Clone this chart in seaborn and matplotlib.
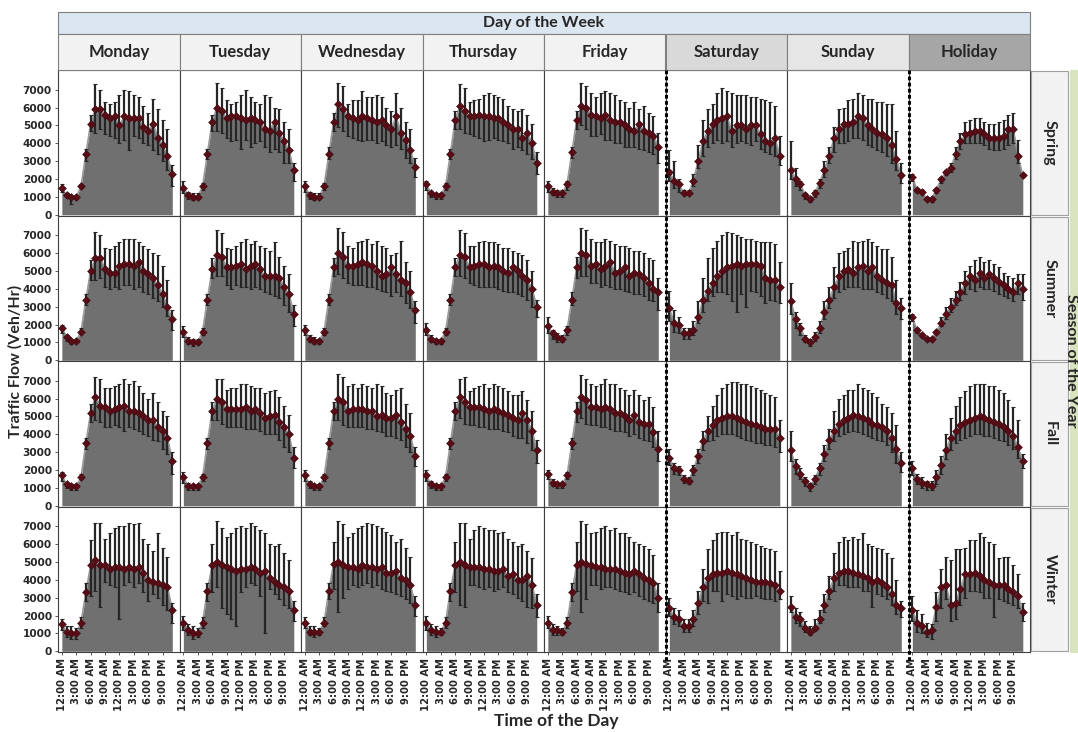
import numpy as np
import pandas as pd
import matplotlib
matplotlib.use("Agg")
import matplotlib.pyplot as plt
from matplotlib.patches import Rectangle
from matplotlib.lines import Line2D
import seaborn as sns

# ---------------------------------------------------------------- data
# traffic flow values in hundreds of veh/hr
days = ["Monday", "Tuesday", "Wednesday", "Thursday", "Friday", "Saturday", "Sunday", "Holiday"]
seasons = ["Spring", "Summer", "Fall", "Winter"]
hours = list(range(24))
hour_ticks = [0, 3, 6, 9, 12, 15, 18, 21]
hour_labels = ["12:00 AM", "3:00 AM", "6:00 AM", "9:00 AM", "12:00 PM", "3:00 PM", "6:00 PM", "9:00 PM"]
y_ticks = [0, 1000, 2000, 3000, 4000, 5000, 6000, 7000]

spring_mean = {
    "Monday":    [15, 11, 10, 10, 16, 34, 51, 59, 59, 56, 54, 55, 50, 55, 54, 54, 54, 49, 47, 51, 43, 39, 33, 23],
    "Tuesday":   [15, 11, 10, 10, 16, 34, 52, 60, 58, 54, 55, 55, 54, 53, 54, 53, 52, 48, 47, 52, 46, 41, 36, 25],
    "Wednesday": [16, 11, 10, 10, 16, 34, 52, 62, 59, 55, 54, 53, 55, 54, 53, 52, 53, 50, 48, 55, 46, 42, 36, 27],
    "Thursday":  [17, 12, 11, 11, 16, 34, 53, 61, 58, 55, 55, 56, 55, 55, 54, 54, 52, 50, 48, 48, 43, 46, 40, 29],
    "Friday":    [16, 13, 12, 12, 17, 35, 53, 61, 60, 56, 55, 54, 56, 53, 52, 52, 50, 48, 47, 51, 47, 46, 44, 38],
    "Saturday":  [24, 19, 17, 12, 12, 19, 30, 41, 47, 51, 53, 54, 55, 47, 50, 50, 48, 50, 50, 45, 41, 40, 43, 33],
    "Sunday":    [25, 20, 17, 11, 9, 12, 18, 25, 33, 43, 48, 51, 51, 52, 55, 54, 50, 48, 46, 45, 43, 39, 31, 22],
    "Holiday":   [21, 14, 13, 9, 9, 14, 20, 24, 26, 34, 41, 45, 46, 47, 47, 45, 43, 43, 43, 44, 48, 48, 33, 22],
}
spring_hi = {
    "Monday":    [17, 12, 11, 11, 17, 37, 56, 73, 70, 63, 62, 63, 67, 70, 69, 67, 66, 61, 57, 65, 59, 53, 48, 28],
    "Tuesday":   [19, 13, 12, 12, 18, 37, 56, 74, 71, 64, 62, 63, 67, 70, 66, 63, 62, 67, 66, 60, 59, 52, 48, 29],
    "Wednesday": [19, 13, 12, 12, 18, 38, 57, 74, 72, 62, 64, 64, 69, 66, 66, 67, 66, 60, 58, 68, 60, 52, 48, 32],
    "Thursday":  [19, 13, 12, 12, 18, 37, 58, 73, 71, 63, 64, 65, 67, 68, 67, 66, 65, 61, 59, 58, 59, 56, 51, 35],
    "Friday":    [19, 15, 14, 14, 19, 38, 58, 74, 72, 68, 66, 68, 69, 68, 67, 64, 63, 60, 63, 59, 61, 57, 55, 46],
    "Saturday":  [36, 30, 20, 14, 14, 23, 39, 53, 59, 62, 68, 71, 69, 68, 67, 67, 67, 66, 66, 65, 64, 63, 61, 44],
    "Sunday":    [41, 26, 19, 12, 10, 14, 20, 30, 38, 49, 59, 60, 64, 65, 68, 67, 65, 65, 63, 63, 62, 62, 47, 29],
    "Holiday":   [23, 15, 14, 10, 10, 15, 21, 25, 29, 38, 46, 52, 53, 54, 54, 52, 51, 51, 52, 53, 56, 57, 42, 23],
}
spring_lo = {
    "Monday":    [13, 10, 6, 9, 15, 30, 47, 46, 48, 45, 44, 43, 40, 42, 36, 44, 43, 40, 39, 36, 34, 30, 25, 16],
    "Tuesday":   [12, 9, 8, 9, 14, 31, 47, 47, 46, 43, 41, 42, 37, 42, 38, 40, 41, 38, 35, 37, 35, 29, 29, 19],
    "Wednesday": [13, 9, 8, 9, 14, 31, 47, 49, 47, 44, 43, 42, 41, 42, 42, 40, 41, 39, 38, 39, 37, 32, 29, 21],
    "Thursday":  [14, 10, 9, 9, 14, 31, 48, 48, 46, 45, 44, 43, 41, 42, 43, 42, 41, 40, 37, 38, 36, 34, 31, 23],
    "Friday":    [13, 11, 10, 10, 14, 32, 48, 50, 48, 44, 44, 45, 42, 42, 40, 40, 38, 38, 38, 37, 36, 35, 34, 29],
    "Saturday":  [19, 15, 13, 11, 11, 16, 26, 33, 38, 40, 42, 40, 41, 38, 40, 41, 40, 39, 41, 37, 35, 34, 33, 28],
    "Sunday":    [20, 16, 14, 9, 7, 10, 15, 21, 29, 35, 40, 40, 41, 43, 43, 42, 39, 38, 36, 35, 33, 29, 25, 18],
    "Holiday":   [19, 13, 12, 8, 7, 12, 18, 22, 24, 31, 37, 40, 40, 40, 40, 39, 37, 36, 36, 37, 39, 40, 29, 21],
}

summer_mean = {
    "Monday":    [18, 13, 11, 11, 16, 34, 50, 57, 57, 51, 49, 49, 53, 54, 54, 53, 55, 50, 48, 46, 42, 37, 30, 23],
    "Tuesday":   [16, 11, 10, 10, 16, 34, 51, 59, 58, 52, 52, 53, 54, 51, 53, 54, 51, 47, 47, 47, 46, 41, 37, 26],
    "Wednesday": [17, 12, 11, 11, 16, 34, 52, 60, 58, 53, 53, 54, 55, 54, 53, 50, 47, 48, 52, 48, 45, 43, 38, 28],
    "Thursday":  [17, 12, 11, 11, 16, 34, 52, 59, 58, 52, 53, 54, 54, 52, 53, 52, 50, 49, 52, 50, 47, 45, 40, 30],
    "Friday":    [19, 15, 13, 12, 17, 34, 52, 60, 59, 53, 54, 51, 53, 55, 49, 50, 52, 47, 49, 48, 46, 43, 40, 38],
    "Saturday":  [29, 21, 20, 15, 15, 17, 24, 34, 39, 43, 47, 50, 52, 53, 54, 53, 54, 54, 54, 53, 46, 45, 45, 41],
    "Sunday":    [33, 23, 18, 12, 10, 13, 18, 27, 34, 41, 47, 50, 51, 49, 52, 53, 50, 52, 47, 45, 43, 42, 32, 29],
    "Holiday":   [24, 17, 14, 12, 12, 16, 21, 26, 30, 34, 38, 43, 47, 45, 49, 46, 48, 46, 44, 42, 40, 38, 43, 40],
}
summer_hi = {
    "Monday":    [20, 14, 12, 12, 18, 37, 56, 72, 70, 63, 62, 64, 66, 68, 68, 68, 66, 64, 62, 60, 59, 53, 45, 28],
    "Tuesday":   [19, 13, 12, 12, 18, 37, 57, 73, 71, 63, 62, 64, 66, 68, 65, 67, 64, 63, 61, 66, 58, 53, 48, 31],
    "Wednesday": [20, 14, 13, 12, 18, 37, 57, 74, 72, 64, 63, 66, 67, 68, 65, 67, 64, 63, 59, 60, 67, 55, 50, 33],
    "Thursday":  [21, 14, 12, 12, 18, 37, 57, 73, 71, 64, 64, 66, 67, 66, 66, 65, 63, 63, 61, 60, 59, 56, 50, 34],
    "Friday":    [24, 17, 15, 14, 19, 38, 58, 74, 73, 68, 66, 66, 68, 67, 65, 64, 64, 63, 61, 61, 60, 57, 56, 46],
    "Saturday":  [39, 28, 24, 18, 18, 22, 33, 46, 57, 63, 67, 70, 72, 71, 70, 69, 68, 68, 67, 66, 66, 66, 65, 55],
    "Sunday":    [43, 27, 21, 14, 12, 16, 22, 33, 41, 52, 60, 61, 63, 67, 66, 67, 68, 66, 64, 62, 62, 58, 45, 35],
    "Holiday":   [26, 18, 15, 13, 13, 17, 24, 30, 35, 39, 44, 50, 53, 56, 58, 55, 56, 54, 52, 49, 47, 46, 48, 48],
}
summer_lo = {
    "Monday":    [15, 11, 9, 10, 15, 31, 45, 45, 46, 41, 40, 41, 40, 42, 42, 40, 41, 38, 37, 35, 33, 30, 25, 17],
    "Tuesday":   [13, 9, 8, 9, 14, 31, 46, 47, 47, 42, 40, 42, 41, 41, 40, 41, 40, 38, 37, 36, 35, 31, 27, 19],
    "Wednesday": [14, 10, 9, 9, 14, 31, 47, 48, 46, 43, 42, 42, 42, 41, 41, 40, 39, 38, 36, 38, 36, 32, 29, 21],
    "Thursday":  [14, 10, 9, 9, 14, 31, 47, 47, 46, 43, 42, 41, 41, 41, 41, 40, 39, 38, 38, 37, 36, 34, 30, 24],
    "Friday":    [15, 12, 10, 10, 14, 31, 46, 47, 47, 43, 43, 41, 42, 41, 40, 40, 39, 38, 37, 37, 36, 34, 33, 28],
    "Saturday":  [22, 16, 15, 12, 12, 14, 21, 27, 33, 36, 38, 38, 37, 33, 27, 37, 30, 39, 38, 36, 32, 34, 33, 32],
    "Sunday":    [26, 18, 14, 10, 8, 11, 15, 23, 29, 35, 38, 40, 41, 41, 41, 40, 40, 40, 38, 37, 35, 33, 26, 23],
    "Holiday":   [22, 15, 13, 11, 11, 15, 19, 23, 27, 31, 34, 37, 40, 39, 41, 40, 40, 39, 37, 36, 35, 33, 37, 34],
}

fall_mean = {
    "Monday":    [17, 12, 11, 11, 16, 35, 52, 61, 56, 55, 53, 54, 55, 56, 53, 53, 52, 50, 48, 48, 44, 42, 38, 25],
    "Tuesday":   [16, 11, 11, 11, 16, 35, 53, 60, 58, 54, 54, 54, 54, 55, 53, 54, 52, 49, 50, 51, 47, 44, 40, 27],
    "Wednesday": [17, 12, 11, 11, 16, 35, 53, 60, 58, 53, 54, 54, 54, 53, 53, 50, 51, 49, 49, 51, 47, 43, 39, 28],
    "Thursday":  [17, 12, 11, 11, 16, 35, 53, 61, 58, 55, 55, 55, 54, 53, 54, 53, 52, 51, 49, 48, 52, 48, 42, 31],
    "Friday":    [18, 13, 12, 12, 17, 35, 53, 61, 59, 55, 55, 54, 55, 54, 52, 52, 50, 48, 51, 47, 46, 46, 41, 32],
    "Saturday":  [27, 21, 20, 15, 14, 20, 28, 36, 42, 45, 48, 49, 50, 50, 49, 48, 47, 46, 45, 44, 43, 43, 43, 38],
    "Sunday":    [31, 22, 18, 14, 11, 15, 21, 29, 37, 42, 46, 48, 49, 51, 50, 49, 48, 46, 45, 44, 42, 38, 32, 24],
    "Holiday":   [21, 15, 13, 12, 11, 16, 23, 31, 38, 42, 45, 47, 48, 49, 50, 49, 48, 47, 46, 44, 42, 39, 33, 25],
}
fall_hi = {
    "Monday":    [19, 13, 12, 12, 18, 38, 57, 72, 71, 66, 66, 67, 68, 71, 68, 70, 67, 63, 60, 63, 58, 53, 50, 30],
    "Tuesday":   [19, 13, 12, 12, 18, 38, 58, 71, 71, 65, 66, 66, 68, 68, 67, 66, 66, 63, 64, 65, 61, 56, 51, 33],
    "Wednesday": [20, 14, 12, 12, 18, 38, 58, 74, 72, 67, 68, 66, 68, 67, 66, 68, 67, 63, 62, 65, 66, 57, 52, 33],
    "Thursday":  [20, 14, 12, 12, 18, 38, 58, 71, 72, 64, 66, 67, 68, 66, 68, 67, 66, 64, 62, 62, 64, 59, 53, 37],
    "Friday":    [20, 15, 13, 13, 19, 38, 58, 73, 71, 68, 67, 68, 71, 68, 68, 66, 65, 62, 65, 62, 59, 61, 55, 42],
    "Saturday":  [32, 24, 22, 17, 16, 23, 32, 42, 50, 56, 62, 66, 68, 69, 69, 68, 68, 67, 66, 65, 63, 62, 61, 48],
    "Sunday":    [42, 26, 21, 16, 13, 17, 24, 34, 43, 53, 60, 62, 65, 65, 68, 66, 65, 63, 61, 57, 55, 52, 45, 30],
    "Holiday":   [25, 18, 16, 14, 14, 20, 28, 40, 49, 56, 61, 64, 67, 68, 68, 68, 67, 67, 65, 63, 59, 55, 48, 29],
}
fall_lo = {
    "Monday":    [14, 10, 9, 9, 15, 32, 47, 48, 47, 44, 44, 45, 44, 42, 44, 43, 42, 40, 39, 37, 36, 32, 29, 18],
    "Tuesday":   [13, 9, 9, 9, 14, 32, 48, 48, 46, 44, 44, 44, 44, 43, 43, 43, 42, 40, 40, 40, 37, 33, 30, 21],
    "Wednesday": [14, 10, 9, 9, 14, 32, 48, 48, 45, 44, 44, 44, 44, 43, 43, 42, 41, 39, 39, 38, 37, 33, 30, 22],
    "Thursday":  [14, 10, 9, 9, 14, 32, 48, 49, 46, 45, 45, 44, 44, 43, 43, 43, 42, 41, 39, 38, 38, 35, 31, 24],
    "Friday":    [15, 11, 10, 10, 15, 32, 47, 49, 46, 45, 45, 44, 44, 43, 42, 42, 41, 39, 40, 38, 37, 36, 33, 25],
    "Saturday":  [23, 18, 17, 13, 12, 17, 24, 31, 36, 37, 39, 40, 40, 40, 39, 38, 37, 36, 35, 35, 34, 34, 33, 30],
    "Sunday":    [25, 18, 15, 11, 8, 12, 17, 25, 32, 36, 39, 40, 41, 42, 41, 40, 39, 38, 37, 36, 34, 30, 24, 19],
    "Holiday":   [17, 12, 10, 9, 9, 12, 18, 26, 31, 35, 37, 38, 39, 40, 40, 39, 39, 38, 37, 36, 34, 32, 27, 21],
}

winter_mean = {
    "Monday":    [15, 11, 10, 10, 16, 33, 48, 51, 48, 48, 46, 47, 47, 46, 47, 46, 47, 44, 40, 39, 38, 37, 36, 23],
    "Tuesday":   [16, 12, 10, 10, 16, 34, 48, 50, 48, 47, 46, 45, 46, 46, 47, 46, 44, 45, 41, 39, 37, 36, 34, 23],
    "Wednesday": [16, 11, 11, 11, 16, 34, 49, 50, 48, 47, 47, 46, 48, 47, 47, 46, 47, 44, 44, 45, 41, 40, 37, 26],
    "Thursday":  [16, 12, 11, 11, 16, 34, 48, 50, 48, 47, 47, 47, 46, 46, 45, 45, 46, 42, 43, 40, 40, 42, 37, 26],
    "Friday":    [16, 12, 12, 11, 16, 33, 48, 50, 49, 48, 47, 47, 46, 46, 46, 45, 44, 43, 45, 43, 41, 40, 38, 30],
    "Saturday":  [24, 19, 18, 14, 14, 18, 27, 36, 41, 43, 44, 44, 45, 44, 43, 42, 41, 40, 39, 39, 39, 38, 37, 34],
    "Sunday":    [25, 19, 18, 13, 11, 13, 18, 26, 34, 41, 44, 45, 45, 44, 43, 42, 41, 39, 40, 38, 36, 32, 26, 24],
    "Holiday":   [23, 16, 14, 11, 12, 25, 36, 37, 26, 27, 35, 43, 43, 44, 42, 40, 39, 37, 37, 37, 35, 33, 31, 22],
}
winter_hi = {
    "Monday":    [18, 14, 14, 13, 19, 38, 62, 72, 72, 63, 66, 69, 70, 70, 72, 71, 72, 63, 60, 56, 66, 58, 53, 27],
    "Tuesday":   [20, 15, 14, 13, 19, 38, 60, 73, 69, 64, 66, 69, 70, 69, 72, 70, 68, 66, 60, 59, 60, 55, 51, 28],
    "Wednesday": [19, 14, 14, 13, 19, 38, 61, 73, 71, 64, 66, 69, 70, 72, 71, 70, 69, 67, 65, 61, 63, 58, 53, 31],
    "Thursday":  [20, 15, 14, 13, 19, 38, 61, 72, 72, 63, 68, 70, 69, 68, 68, 66, 67, 63, 61, 59, 60, 56, 52, 32],
    "Friday":    [20, 15, 14, 13, 19, 38, 61, 73, 71, 66, 67, 69, 70, 68, 69, 66, 66, 64, 61, 60, 59, 57, 54, 38],
    "Saturday":  [30, 24, 23, 18, 18, 23, 34, 46, 57, 62, 66, 67, 67, 65, 67, 63, 62, 61, 60, 59, 58, 57, 56, 45],
    "Sunday":    [31, 24, 22, 17, 14, 18, 23, 32, 42, 55, 61, 64, 62, 64, 63, 66, 60, 59, 58, 57, 55, 52, 40, 28],
    "Holiday":   [31, 23, 21, 16, 15, 33, 46, 53, 51, 57, 57, 58, 62, 62, 66, 64, 61, 60, 52, 53, 53, 48, 43, 27],
}
winter_lo = {
    "Monday":    [12, 8, 7, 7, 13, 28, 31, 34, 25, 39, 37, 36, 18, 37, 39, 36, 38, 33, 28, 32, 30, 26, 23, 16],
    "Tuesday":   [12, 9, 7, 8, 13, 28, 33, 36, 24, 21, 18, 14, 33, 36, 38, 37, 31, 10, 35, 32, 29, 26, 24, 17],
    "Wednesday": [13, 9, 8, 9, 14, 29, 35, 22, 30, 35, 37, 36, 37, 38, 36, 37, 35, 34, 33, 32, 31, 29, 27, 20],
    "Thursday":  [12, 9, 8, 9, 13, 28, 33, 26, 25, 37, 37, 36, 35, 36, 34, 35, 36, 33, 32, 30, 28, 25, 24, 19],
    "Friday":    [13, 9, 9, 9, 13, 28, 34, 22, 29, 37, 37, 35, 36, 36, 35, 34, 33, 32, 33, 31, 29, 28, 27, 22],
    "Saturday":  [20, 15, 14, 11, 11, 14, 21, 28, 27, 34, 34, 28, 32, 31, 29, 31, 30, 30, 31, 30, 29, 29, 28, 29],
    "Sunday":    [22, 16, 14, 11, 9, 12, 16, 22, 29, 34, 37, 37, 36, 36, 36, 34, 34, 25, 32, 31, 29, 26, 21, 19],
    "Holiday":   [17, 11, 10, 8, 7, 17, 24, 29, 17, 18, 26, 30, 34, 34, 33, 30, 30, 19, 29, 28, 27, 26, 24, 17],
}

season_data = {
    "Spring": (spring_mean, spring_lo, spring_hi),
    "Summer": (summer_mean, summer_lo, summer_hi),
    "Fall": (fall_mean, fall_lo, fall_hi),
    "Winter": (winter_mean, winter_lo, winter_hi),
}

header_colors = ["#f2f2f2"] * 5 + ["#d9d9d9", "#e6e6e6", "#a6a6a6"]

# ---------------------------------------------------------------- style
sns.set_style("ticks")
plt.rcParams['font.family'] = ['Lato', 'DejaVu Sans']
plt.rcParams['font.weight'] = 'bold'

W, H = 1078, 732
X0, COLW = 58, 121.5
Y0, ROWH = 70, 145.5

fig = plt.figure(figsize=(W / 100, H / 100), dpi=100)


def fig_rect(x, y, w, h, color, ec="#7f7f7f", lw=0.8):
    fig.patches.append(Rectangle((x / W, 1 - (y + h) / H), w / W, h / H,
                                 transform=fig.transFigure, facecolor=color,
                                 edgecolor=ec, linewidth=lw, zorder=0))


# ---------------------------------------------------------------- panels
for r, season in enumerate(seasons):
    mean_d, lo_d, hi_d = season_data[season]
    for c, day in enumerate(days):
        left = X0 + c * COLW
        top = Y0 + r * ROWH
        ax = fig.add_axes([left / W, 1 - (top + ROWH) / H, COLW / W, ROWH / H])

        df = pd.DataFrame({
            "hour": hours,
            "flow": np.array(mean_d[day]) * 100,
            "lo": np.array(lo_d[day]) * 100,
            "hi": np.array(hi_d[day]) * 100,
        })

        ax.fill_between(df["hour"], 0, df["flow"], color="#707070", lw=0, zorder=1)
        sns.lineplot(data=df, x="hour", y="flow", ax=ax, color="#9a9a9a",
                     lw=1.2, zorder=2, legend=False)
        ax.errorbar(df["hour"], df["flow"],
                    yerr=[df["flow"] - df["lo"], df["hi"] - df["flow"]],
                    fmt="none", ecolor="#262626", elinewidth=1.6,
                    capsize=1.3, capthick=0.8, zorder=3)
        sns.scatterplot(data=df, x="hour", y="flow", ax=ax, marker="D",
                        color="#5a0c16", edgecolor="#3a0a10", s=16,
                        linewidth=0.4, zorder=4, legend=False)

        ax.set_xlim(-0.8, 24.5)
        ax.set_ylim(-40, 8100)
        ax.set_xlabel("")
        ax.set_ylabel("")
        ax.set_xticks(hour_ticks)
        ax.set_yticks(y_ticks)
        ax.tick_params(length=2.5, width=0.6, pad=2, color="#404040")
        if c == 0:
            ax.set_yticklabels([str(v) for v in y_ticks], fontsize=7.6,
                               fontweight="bold", family="DejaVu Sans")
        else:
            ax.tick_params(axis="y", length=0)
            ax.set_yticklabels([])
        if r == len(seasons) - 1:
            ax.set_xticklabels(hour_labels, rotation=90, fontsize=7.2,
                               fontweight="bold", family="DejaVu Sans")
        else:
            ax.tick_params(axis="x", length=0)
            ax.set_xticklabels([])
        for sp in ax.spines.values():
            sp.set_visible(True)
            sp.set_color("#404040")
            sp.set_linewidth(0.8)

    # season label on the right
    fig_rect(1031, Y0 + r * ROWH + 1, 37, ROWH - 2, "#f2f2f2", ec="#a0a0a0")
    fig.text(1050 / W, 1 - (Y0 + r * ROWH + ROWH / 2) / H, season,
             rotation=270, ha="center", va="center", fontsize=11.5, fontweight="bold")

# ---------------------------------------------------------------- headers
fig_rect(X0, 12, COLW * 8, 22, "#dce6f1")
fig.text((X0 + COLW * 4) / W, 1 - 23 / H, "Day of the Week",
         ha="center", va="center", fontsize=11.5, fontweight="bold")
for c, day in enumerate(days):
    fig_rect(X0 + c * COLW, 34, COLW, 36, header_colors[c])
    fig.text((X0 + c * COLW + COLW / 2) / W, 1 - 52 / H, day,
             ha="center", va="center", fontsize=12, fontweight="bold")

# green strip on the far right
fig_rect(1070, Y0, 12, ROWH * 4, "#d7e4bd", ec="#d7e4bd")
fig.text(1071 / W, 1 - (Y0 + ROWH * 2) / H, "Season of the Year",
         rotation=270, ha="center", va="center", fontsize=11.5, fontweight="bold")

# dashed separators weekday | weekend | holiday
for c in (5, 7):
    xx = (X0 + c * COLW) / W
    fig.add_artist(Line2D([xx, xx], [1 - 70 / H, 1 - 662 / H], color="black",
                          lw=2.2, ls=(0, (1.2, 0.8)), transform=fig.transFigure, zorder=10))

# axis titles
fig.text(15 / W, 1 - (Y0 + ROWH * 2) / H, "Traffic Flow (Veh/Hr)", rotation=90,
         ha="center", va="center", fontsize=11.5, fontweight="bold")
fig.text(556 / W, 1 - 721 / H, "Time of the Day",
         ha="center", va="center", fontsize=12.5, fontweight="bold")

fig.savefig("out.png", dpi=100)
